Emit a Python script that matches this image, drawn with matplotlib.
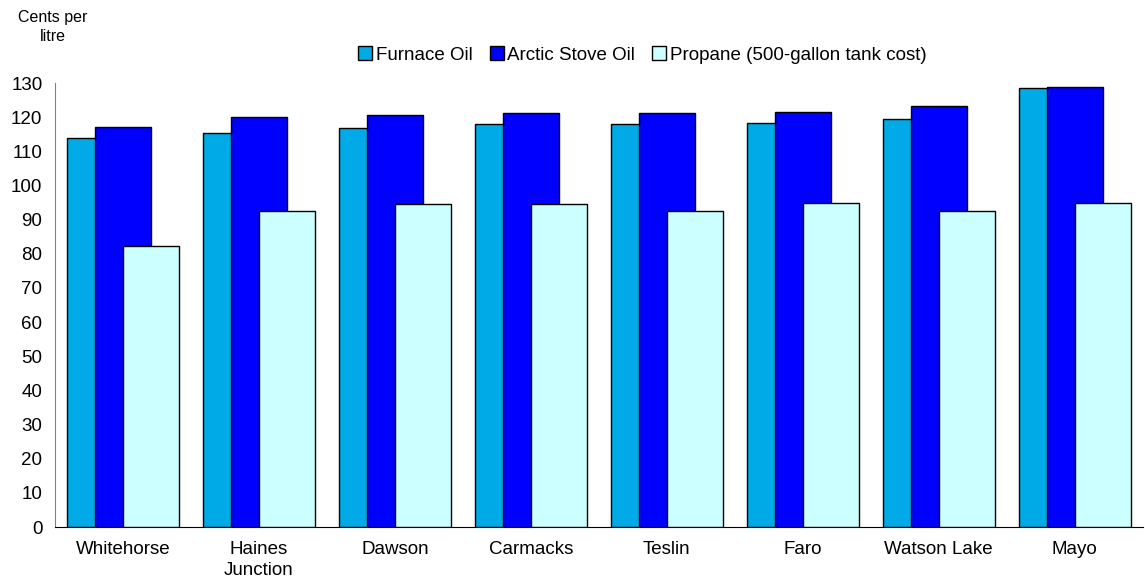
import matplotlib
matplotlib.use("Agg")
import matplotlib.pyplot as plt
import numpy as np
from matplotlib.patches import Patch

plt.rcParams['font.family'] = ['Liberation Sans', 'DejaVu Sans']

categories = ["Whitehorse", "Haines\nJunction", "Dawson", "Carmacks", "Teslin", "Faro", "Watson Lake", "Mayo"]
furnace_oil = [114.0, 115.3, 116.9, 118.1, 117.9, 118.3, 119.4, 128.5]
arctic_stove_oil = [117.1, 119.9, 120.7, 121.2, 121.3, 121.5, 123.2, 128.8]
propane = [82.4, 92.6, 94.7, 94.7, 92.6, 94.8, 92.6, 94.8]
series_names = ["Furnace Oil", "Arctic Stove Oil", "Propane (500-gallon tank cost)"]
colors = ["#00AAE6", "#0000FF", "#CCFFFF"]
yticks = list(range(0, 131, 10))

fig = plt.figure(figsize=(11.45, 5.87), dpi=100)
ax = fig.add_axes([0.048, 0.1022, 0.950, 0.7564])

x = np.arange(len(categories))
w = 0.41
off = 0.206
for i, (vals, c) in enumerate(zip([furnace_oil, arctic_stove_oil, propane], colors)):
    ax.bar(x + (i - 1) * off, vals, width=w, color=c, edgecolor="black", linewidth=1.0, zorder=2 + i)

ax.set_xlim(-0.5, len(categories) - 0.5)
ax.set_ylim(0, 130)
ax.set_yticks(yticks)
ax.set_yticklabels([str(v) for v in yticks], fontsize=13.5)
ax.set_xticks(x)
ax.set_xticklabels(categories, fontsize=13.5, linespacing=1.3)
ax.tick_params(axis='both', length=0)
ax.tick_params(axis='y', pad=9)
ax.tick_params(axis='x', pad=10)
for s in ['top', 'right']:
    ax.spines[s].set_visible(False)
ax.spines['left'].set_color('#808080')
ax.spines['bottom'].set_color('black')

fig.text(0.046, 0.970, "Cents per", fontsize=11.5, ha='center', va='center')
fig.text(0.046, 0.938, "litre", fontsize=11.5, ha='center', va='center')

handles = [Patch(facecolor=c, edgecolor='black', linewidth=1.0) for c in colors]
fig.legend(handles, series_names, ncol=3, loc='center', bbox_to_anchor=(0.561, 0.906),
           frameon=False, fontsize=13.5, handlelength=0.75, handleheight=0.75,
           handletextpad=0.2, columnspacing=0.9)

fig.savefig("out.png", dpi=100)
